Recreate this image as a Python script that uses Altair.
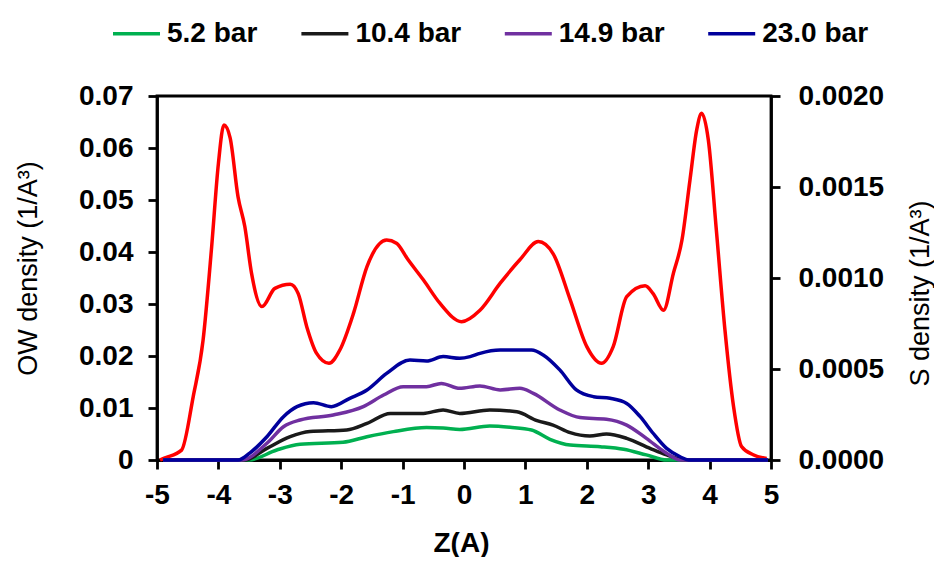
import altair as alt
import pandas as pd

# ---- OW density (left axis, red) ----
ow_z = [-4.95, -4.87, -4.6, -4.41, -4.25, -4.11, -4.0, -3.91, -3.81, -3.68, -3.57, -3.46, -3.29,
        -3.08, -2.83, -2.70, -2.56, -2.40, -2.20, -2.02, -1.80, -1.58, -1.26, -1.10, -0.91, -0.66,
        -0.39, -0.04, 0.26, 0.59, 0.91, 1.21, 1.45, 1.73, 2.00, 2.24, 2.43, 2.65, 2.95, 3.08, 3.25,
        3.41, 3.55, 3.68, 3.79, 3.87, 3.98, 4.11, 4.25, 4.39, 4.52, 4.71, 4.93]
ow_vals = [0.0000, 0.0004, 0.0019, 0.0122, 0.0230, 0.0410, 0.0570, 0.0644, 0.0620, 0.0506, 0.0449,
           0.0359, 0.0295, 0.0330, 0.0338, 0.0320, 0.0256, 0.0205, 0.0186, 0.0212, 0.0282, 0.0372,
           0.0423, 0.0417, 0.0385, 0.0346, 0.0301, 0.0266, 0.0288, 0.0340, 0.0385, 0.0420, 0.0397,
           0.0308, 0.0218, 0.0186, 0.0218, 0.0314, 0.0335, 0.0320, 0.0288, 0.0359, 0.0423, 0.0538,
           0.0635, 0.0667, 0.0615, 0.0442, 0.0250, 0.0103, 0.0026, 0.0010, 0.0003]

# ---- S density (right axis) ----
names = ["5.2 bar", "10.4 bar", "14.9 bar", "23.0 bar"]
colors = ["#00B050", "#1A1A1A", "#7030A0", "#00009C"]

z_52 = [-4.9, -3.50, -3.05, -2.67, -1.97, -1.58, -1.15, -0.61, -0.34, -0.07, 0.42, 0.75, 1.10,
        1.40, 1.73, 2.22, 2.60, 2.97, 3.30, 4.95]
s_52 = [0, 0, 0.000055, 0.000086, 0.000097, 0.000128, 0.000156, 0.000178, 0.000176, 0.000168,
        0.000187, 0.000180, 0.000165, 0.000114, 0.000082, 0.000073, 0.000059, 0.000028, 0, 0]

z_104 = [-4.9, -3.57, -3.21, -2.83, -2.51, -1.91, -1.58, -1.20, -0.66, -0.34, -0.07, 0.42, 0.86,
         1.19, 1.45, 1.73, 2.05, 2.32, 2.65, 3.03, 3.30, 3.60, 4.95]
s_104 = [0, 0, 0.000064, 0.000128, 0.000156, 0.000165, 0.000201, 0.000256, 0.000256, 0.000275,
         0.000256, 0.000275, 0.000265, 0.000216, 0.000192, 0.000150, 0.000132, 0.000143, 0.000119,
         0.000064, 0.000028, 0, 0]

z_149 = [-4.9, -3.62, -3.21, -2.94, -2.67, -2.13, -1.64, -1.31, -0.99, -0.61, -0.37, -0.07, 0.26,
         0.59, 0.91, 1.13, 1.56, 1.89, 2.32, 2.65, 2.97, 3.30, 3.52, 4.95]
s_149 = [0, 0, 0.000092, 0.000183, 0.000220, 0.000247, 0.000293, 0.000357, 0.000403, 0.000403,
         0.000421, 0.000394, 0.000407, 0.000385, 0.000394, 0.000366, 0.000275, 0.000233, 0.000224,
         0.000192, 0.000119, 0.000037, 0, 0]

z_230 = [-4.9, -3.68, -3.49, -3.21, -2.94, -2.72, -2.45, -2.16, -1.86, -1.58, -1.26, -0.88, -0.61,
         -0.34, -0.07, 0.10, 0.26, 0.59, 1.10, 1.29, 1.56, 1.83, 2.11, 2.38, 2.65, 2.87, 3.08, 3.30,
         3.52, 3.66, 4.95]
s_230 = [0, 0, 0.000038, 0.000128, 0.000238, 0.000293, 0.000315, 0.000293, 0.000339, 0.000385,
         0.000476, 0.000549, 0.000544, 0.000568, 0.000559, 0.000568, 0.000586, 0.000604, 0.000604,
         0.000577, 0.000495, 0.000385, 0.000348, 0.000339, 0.000311, 0.000238, 0.000147, 0.000064,
         0.000018, 0, 0]

x_ticks = [-5, -4, -3, -2, -1, 0, 1, 2, 3, 4, 5]
left_ticks = [0, 0.01, 0.02, 0.03, 0.04, 0.05, 0.06, 0.07]
right_ticks = [0, 0.0005, 0.001, 0.0015, 0.002]

ow_df = pd.DataFrame({"z": ow_z, "ow": ow_vals})
rows = []
for name, zs, vs in zip(names, [z_52, z_104, z_149, z_230], [s_52, s_104, s_149, s_230]):
    for i, (z, v) in enumerate(zip(zs, vs)):
        rows.append({"z": z, "s": v, "series": name, "order": i})
s_df = pd.DataFrame(rows)

FONT = "Liberation Sans"
LBL = 28

x_enc = alt.X(
    "z:Q",
    scale=alt.Scale(domain=[-5, 5], nice=False, zero=False),
    axis=alt.Axis(
        values=x_ticks, labelExpr="'' + datum.value", title="Z(A)", labelFlush=False,
        labelPadding=12, titleFontWeight="bold", titleFontSize=28,
        titleX=304, titleY=91, titleBaseline="alphabetic", titleAlign="center",
    ),
)

red = alt.Chart(ow_df).mark_line(color="#FF0000", strokeWidth=3.5, interpolate="monotone").encode(
    x=x_enc,
    y=alt.Y(
        "ow:Q",
        scale=alt.Scale(domain=[0, 0.07], nice=False),
        axis=alt.Axis(
            orient="left", values=left_ticks,
            labelExpr="datum.value == 0 ? '0' : format(datum.value, '.2f')",
            title="OW density (1/A³)", labelPadding=15,
            titleFontWeight="normal", titleFontSize=27,
            titleX=-129, titleY=172, titleAngle=270, titleBaseline="middle", titleAlign="center",
        ),
    ),
)

s_lines = alt.Chart(s_df).mark_line(strokeWidth=3.5, interpolate="monotone").encode(
    x=x_enc,
    y=alt.Y(
        "s:Q",
        scale=alt.Scale(domain=[0, 0.002], nice=False),
        axis=alt.Axis(
            orient="right", values=right_ticks, format=".4f",
            title="S density (1/A³)", labelPadding=18,
            titleFontWeight="normal", titleFontSize=27,
            titleX=149, titleY=197, titleAngle=270, titleBaseline="middle", titleAlign="center",
        ),
    ),
    color=alt.Color(
        "series:N",
        scale=alt.Scale(domain=names, range=colors),
        legend=alt.Legend(
            orient="none", legendX=-46, legendY=-88, direction="horizontal", columns=4,
            title=None, symbolType="stroke", symbolSize=2209, symbolStrokeWidth=3.5,
            labelFont=FONT, labelFontSize=LBL, labelFontWeight="bold", labelColor="black",
            columnPadding=36.4, labelOffset=5, padding=0,
        ),
    ),
    order="order:Q",
)

chart = (
    alt.layer(red, s_lines)
    .resolve_scale(y="independent")
    .properties(
        width=614, height=364,
        autosize=alt.AutoSizeParams(type="none"),
        padding={"left": 149, "top": 88, "right": 163, "bottom": 97},
        background="white",
    )
    .configure_view(stroke="black", strokeWidth=2.8)
    .configure_axis(
        grid=False, domainColor="black", domainWidth=2.8, tickColor="black", tickWidth=2.8,
        tickSize=9, labelFont=FONT, labelFontSize=LBL, labelFontWeight="bold", labelColor="black",
        titleFont=FONT, titleColor="black",
    )
)

chart.save("out.html", embed_options={"renderer": "svg", "actions": False})
